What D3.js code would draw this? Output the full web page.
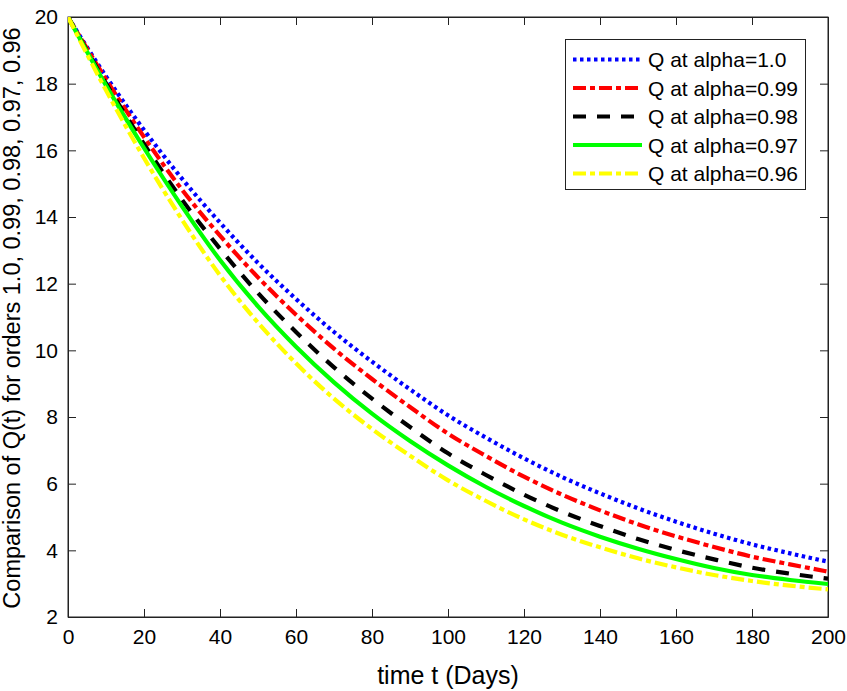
<!DOCTYPE html>
<html>
<head>
<meta charset="utf-8">
<script src="https://cdn.jsdelivr.net/npm/d3@7/dist/d3.min.js"></script>
<style>
  html, body { margin: 0; padding: 0; background: #fff; }
  svg { display: block; }
  text { font-family: "Liberation Sans", Arial, Helvetica, sans-serif; }
</style>
</head>
<body>
<svg id="chart" width="847" height="691"></svg>
<script>
// ---- data ----
const days = [0, 10, 20, 30, 40, 50, 60, 70, 80, 90, 100, 110, 120, 130, 140, 150, 160, 170, 180, 190, 200];
const qAlpha100 = [20, 18.22, 16.61, 15.15, 13.83, 12.62, 11.54, 10.55, 9.66, 8.83, 8.05, 7.38, 6.76, 6.20, 5.71, 5.26, 4.86, 4.50, 4.18, 3.91, 3.66];
const qAlpha099 = [20, 18.13, 16.40, 14.82, 13.44, 12.19, 11.07, 10.05, 9.14, 8.30, 7.50, 6.83, 6.21, 5.67, 5.20, 4.78, 4.42, 4.10, 3.81, 3.58, 3.36];
const qAlpha098 = [20, 18.01, 16.19, 14.52, 13.05, 11.72, 10.55, 9.49, 8.55, 7.70, 6.91, 6.26, 5.67, 5.16, 4.73, 4.34, 4.01, 3.73, 3.48, 3.30, 3.15];
const qAlpha097 = [20, 17.95, 16.07, 14.32, 12.71, 11.32, 10.11, 9.04, 8.10, 7.28, 6.55, 5.90, 5.33, 4.83, 4.41, 4.05, 3.74, 3.47, 3.26, 3.11, 2.99];
const qAlpha096 = [20, 17.80, 15.77, 13.92, 12.25, 10.83, 9.61, 8.55, 7.64, 6.84, 6.10, 5.48, 4.93, 4.47, 4.09, 3.76, 3.49, 3.26, 3.08, 2.94, 2.83];
const seriesNames = ["Q at alpha=1.0", "Q at alpha=0.99", "Q at alpha=0.98", "Q at alpha=0.97", "Q at alpha=0.96"];
const xTicks = [0, 20, 40, 60, 80, 100, 120, 140, 160, 180, 200];
const yTicks = [2, 4, 6, 8, 10, 12, 14, 16, 18, 20];
const xLabel = "time t (Days)";
const yLabel = "Comparison of Q(t) for orders 1.0, 0.99, 0.98, 0.97, 0.96";

// ---- styles ----
const styles = [
  { color: "#0000ff", dash: "3.5,3.5" },
  { color: "#ff0000", dash: "13,4,5,4" },
  { color: "#000000", dash: "13,11" },
  { color: "#00ff00", dash: null },
  { color: "#ffff00", dash: "13,4,5,4" }
];
const seriesValues = [qAlpha100, qAlpha099, qAlpha098, qAlpha097, qAlpha096];

const svg = d3.select("#chart");
const L = 68, R = 828, T = 17, B = 617;
const x = d3.scaleLinear().domain([0, 200]).range([L, R]);
const y = d3.scaleLinear().domain([2, 20]).range([B, T]);
const axisColor = "#222";
const fs = 21;
const labelFs = 25;

// box
svg.append("rect").attr("x", L).attr("y", T).attr("width", R - L).attr("height", B - T)
  .attr("fill", "none").attr("stroke", axisColor).attr("stroke-width", 1);

// axes
const tickLen = 8;
const gx = svg.append("g").attr("transform", `translate(0,${B})`)
  .call(d3.axisBottom(x).tickValues(xTicks).tickSizeInner(-tickLen).tickSizeOuter(0).tickPadding(12).tickFormat(d3.format("d")));
const gxTop = svg.append("g").attr("transform", `translate(0,${T})`)
  .call(d3.axisTop(x).tickValues(xTicks).tickSizeInner(-tickLen).tickSizeOuter(0).tickFormat(""));
const gy = svg.append("g").attr("transform", `translate(${L},0)`)
  .call(d3.axisLeft(y).tickValues(yTicks).tickSizeInner(-tickLen).tickSizeOuter(0).tickPadding(10).tickFormat(d3.format("d")));
const gyR = svg.append("g").attr("transform", `translate(${R},0)`)
  .call(d3.axisRight(y).tickValues(yTicks).tickSizeInner(-tickLen).tickSizeOuter(0).tickFormat(""));
[gx, gxTop, gy, gyR].forEach(g => {
  g.select(".domain").attr("stroke", axisColor);
  g.selectAll(".tick line").attr("stroke", axisColor);
  g.selectAll(".tick text").attr("fill", "#000").style("font-size", fs + "px")
    .style("font-family", '"Liberation Sans", Arial, sans-serif');
});

// clip
svg.append("clipPath").attr("id", "clip").append("rect")
  .attr("x", L).attr("y", T).attr("width", R - L).attr("height", B - T);

const line = d3.line().x(d => x(d[0])).y(d => y(d[1])).curve(d3.curveMonotoneX);
const plot = svg.append("g").attr("clip-path", "url(#clip)");
seriesValues.forEach((vals, i) => {
  const pts = days.map((t, j) => [t, vals[j]]);
  const p = plot.append("path").datum(pts).attr("d", line)
    .attr("fill", "none").attr("stroke", styles[i].color).attr("stroke-width", 4.2);
  if (styles[i].dash) p.attr("stroke-dasharray", styles[i].dash);
});

// labels
svg.append("text").attr("x", (L + R) / 2).attr("y", 684).attr("text-anchor", "middle")
  .style("font-size", labelFs + "px").text(xLabel);
svg.append("text").attr("transform", `translate(20,318) rotate(-90)`)
  .attr("text-anchor", "middle").style("font-size", "23.5px").text(yLabel);

// legend
const lg = svg.append("g");
lg.append("rect").attr("x", 565.5).attr("y", 39.5).attr("width", 240).attr("height", 150)
  .attr("fill", "#fff").attr("stroke", axisColor).attr("stroke-width", 1);
seriesNames.forEach((name, i) => {
  const yy = 59.5 + i * 28.5;
  const l = lg.append("line").attr("x1", 573).attr("x2", 642).attr("y1", yy).attr("y2", yy)
    .attr("stroke", styles[i].color).attr("stroke-width", 4.2);
  if (styles[i].dash) l.attr("stroke-dasharray", styles[i].dash);
  lg.append("text").attr("x", 648).attr("y", yy + 7.5).style("font-size", fs + "px").text(name);
});
</script>
</body>
</html>
